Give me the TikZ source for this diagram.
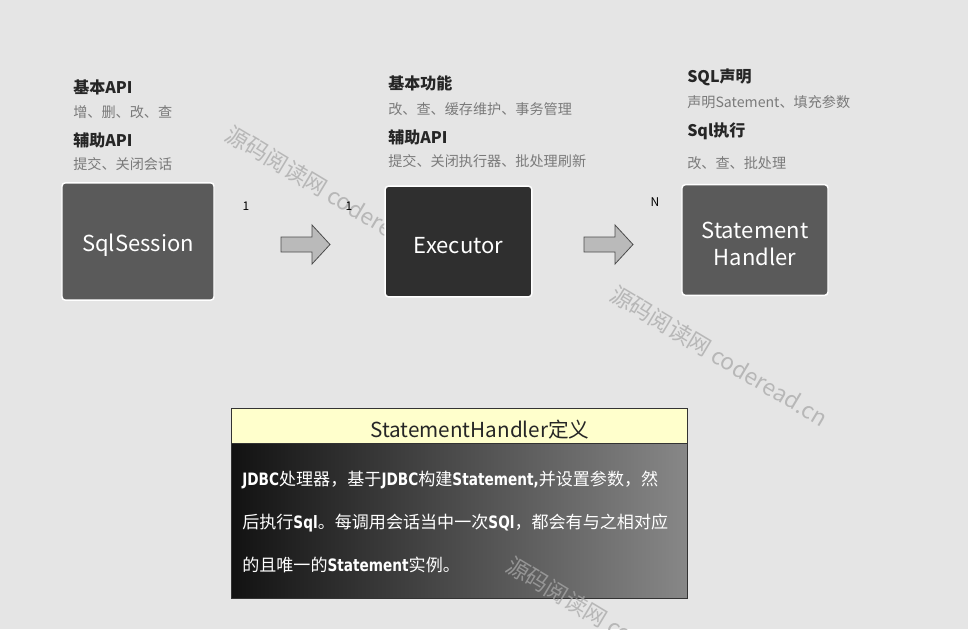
\documentclass[tikz,border=0pt]{standalone}
\usepackage{fontspec}
\setmainfont{Noto Sans CJK SC}
\newfontfamily\heavyfont[FakeStretch=0.8]{DejaVu Sans}
\usetikzlibrary{positioning}
\definecolor{canvasgray}{HTML}{E5E5E5}
\definecolor{boxgray}{HTML}{5A5A5A}
\definecolor{boxdark}{HTML}{2F2F2F}
\definecolor{notegray}{HTML}{7A7A7A}
\definecolor{headyellow}{HTML}{FFFFCC}
\definecolor{markgray}{HTML}{A8A8A8}
\newcommand\heavy[1]{{\heavyfont\bfseries #1}}
\newcommand\sunk[1]{\raisebox{-3pt}[\height][\depth]{#1}}

\begin{document}
\begin{tikzpicture}[x=0.75pt, y=-0.75pt,
    comp/.style={rectangle, draw=white, line width=1.1pt, rounded corners=2.5pt, text=white, font=\fontsize{16.5}{20}\selectfont, align=center, inner sep=0pt},
    ttl/.style={anchor=west, inner sep=0pt, text=black!85, font=\bfseries\fontsize{12}{14}\selectfont},
    note/.style={anchor=west, inner sep=0pt, text=notegray, font=\fontsize{10.6}{12}\selectfont},
    card/.style={inner sep=0pt, font=\fontsize{9}{10}\selectfont},
    blockarr/.style={draw=black!70, fill=black!27, line width=0.6pt},
    defbox/.style={rectangle, draw=black!80, line width=0.6pt, minimum width=342pt, inner sep=0pt},
    deftxt/.style={anchor=west, inner sep=0pt, text=white, font=\fontsize{12.8}{15}\selectfont},
    wmark/.style={text=markgray, opacity=0.75, rotate=-31, inner sep=0pt, font=\fontsize{17}{20}\selectfont}
]
    \fill[canvasgray] (0,0) rectangle (968,629);
    \useasboundingbox (0,0) rectangle (968,629);

    % watermarks behind the boxes
    \node[wmark] (wm1) at (335,196) {源码阅读网 coderead.cn};
    \node[wmark] (wm2) at (719,356) {源码阅读网 coderead.cn};

    % components
    \node[comp, fill=boxgray, minimum width=114pt, minimum height=88pt] (sqls) at (138,241.5) {\sunk{SqlSession}};
    \node[comp, fill=boxdark, minimum width=110pt, minimum height=83pt] (exec) at (458.5,241.5) {\sunk{Executor}};
    \node[comp, fill=boxgray, minimum width=109.5pt, minimum height=83pt] (sth) at (755,240) {\sunk{Statement}\\\sunk{Handler}};

    \node[card] (c1) at (246,206) {1};
    \node[card] (c2) at (349,206) {1};
    \node[card] (cn) at (655,202) {N};

    \foreach \ax in {281,584}
        \draw[blockarr] (\ax,237) -- ++(31,0) -- ++(0,-12) -- (\ax+49,244.5) -- (\ax+31,264) -- ++(0,-12) -- (\ax,252) -- cycle;

    % descriptions
    \node[ttl] (t1a) at (73,87) {基本API};
    \node[note] (n1a) at (73,112) {增、删、改、查};
    \node[ttl] (t1b) at (73,140) {辅助API};
    \node[note] (n1b) at (73,164) {提交、关闭会话};

    \node[ttl] (t2a) at (388,83) {基本功能};
    \node[note] (n2a) at (388,109) {改、查、缓存维护、事务管理};
    \node[ttl] (t2b) at (388,137) {辅助API};
    \node[note] (n2b) at (388,161) {提交、关闭执行器、批处理刷新};

    \node[ttl] (t3a) at (687,77) {SQL声明};
    \node[note] (n3a) at (687,102) {声明Satement、填充参数};
    \node[ttl] (t3b) at (687,131) {Sql执行};
    \node[note] (n3b) at (687,163) {改、查、批处理};

    % definition card
    \node[defbox, fill=headyellow, minimum height=26.25pt] (defhead) at (459,425.5) {};
    \node[text=black!85, font=\fontsize{15.5}{18}\selectfont, inner sep=0pt] (deftitle) at (480,430) {StatementHandler定义};
    \node[defbox, left color=black!93, right color=black!47, minimum height=116.25pt, below=0pt of defhead] (defbody) {};
    \node[deftxt] (d1) at (242,480) {\heavy{JDBC}处理器，基于\heavy{JDBC}构建\heavy{Statement,}并设置参数，然};
    \node[deftxt] (d2) at (242,523) {后执行\heavy{Sql}。每调用会话当中一次\heavy{SQl}，都会有与之相对应};
    \node[deftxt] (d3) at (242,565) {的且唯一的\heavy{Statement}实例。};

    \node[wmark] (wm3) at (615,627) {源码阅读网 coderead.cn};
\end{tikzpicture}
\end{document}
